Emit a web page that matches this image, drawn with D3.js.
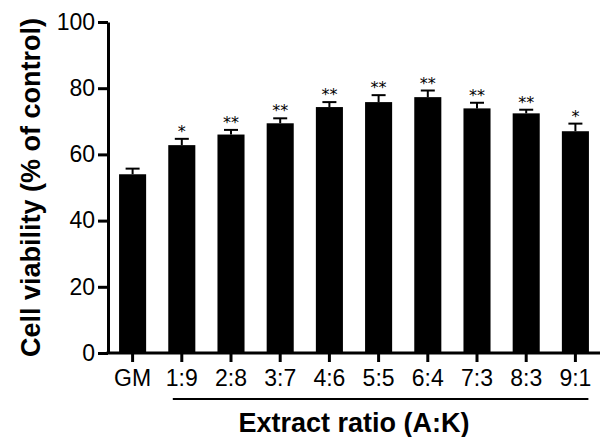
<!DOCTYPE html>
<html>
<head>
<meta charset="utf-8">
<script src="https://cdn.jsdelivr.net/npm/d3@7"></script>
<style>
  html, body { margin: 0; padding: 0; background: #fff; }
  svg { display: block; }
  text { font-family: Arial, "Liberation Sans", sans-serif; fill: #000; }
</style>
</head>
<body>
<svg id="chart" width="600" height="437"></svg>
<script>
const categories = ["GM", "1:9", "2:8", "3:7", "4:6", "5:5", "6:4", "7:3", "8:3", "9:1"];
const means      = [54.0, 62.8, 66.0, 69.4, 74.3, 75.8, 77.3, 73.9, 72.4, 67.0];
const errors     = [1.7, 1.9, 1.4, 1.5, 1.5, 2.1, 2.0, 1.7, 1.1, 2.3];
const stars      = ["", "*", "**", "**", "**", "**", "**", "**", "**", "*"];
const yTicks     = [0, 20, 40, 60, 80, 100];
const yTitle = "Cell viability (% of control)";
const xTitle = "Extract ratio (A:K)";

const svg = d3.select("#chart");
const mLeft = 108, mRight = 600, mTop = 22, mBottom = 353;

const x = d3.scaleBand().domain(categories).range([mLeft, mRight])
  .paddingInner(0.45).paddingOuter(0.225);
const y = d3.scaleLinear().domain([0, 100]).range([mBottom, mTop]);

// bars
svg.append("g").selectAll("rect").data(categories).join("rect")
  .attr("x", d => x(d))
  .attr("width", x.bandwidth())
  .attr("y", (d, i) => y(means[i]))
  .attr("height", (d, i) => mBottom - y(means[i]))
  .attr("fill", "#000");

// error bars (upper only)
const eb = svg.append("g").attr("stroke", "#000").attr("stroke-width", 2);
categories.forEach((c, i) => {
  const cx = x(c) + x.bandwidth() / 2;
  eb.append("line").attr("x1", cx).attr("x2", cx)
    .attr("y1", y(means[i])).attr("y2", y(means[i] + errors[i]));
  eb.append("line").attr("x1", cx - 7).attr("x2", cx + 7)
    .attr("y1", y(means[i] + errors[i])).attr("y2", y(means[i] + errors[i]));
});

// significance stars
svg.append("g").selectAll("text").data(categories).join("text")
  .attr("x", d => x(d) + x.bandwidth() / 2)
  .attr("y", (d, i) => y(means[i] + errors[i]) - 2)
  .attr("text-anchor", "middle")
  .style("font-family", "'DejaVu Sans', sans-serif")
  .style("font-size", "16px")
  .text((d, i) => stars[i]);

// y axis
const yAxis = svg.append("g").attr("transform", `translate(${mLeft},0)`)
  .call(d3.axisLeft(y).tickValues(yTicks).tickSize(10).tickSizeOuter(0).tickPadding(3));
yAxis.select(".domain").attr("stroke-width", 3);
yAxis.selectAll(".tick line").attr("stroke-width", 3);
yAxis.selectAll(".tick text").style("font-size", "23px")
  .style("font-family", "Arial, 'Liberation Sans', sans-serif");

// x axis
const xAxis = svg.append("g").attr("transform", `translate(0,${mBottom})`)
  .call(d3.axisBottom(x).tickSize(9).tickSizeOuter(0).tickPadding(8));
xAxis.select(".domain").remove();
xAxis.append("line").attr("x1", mLeft - 1.5).attr("x2", mRight).attr("y1", 0).attr("y2", 0)
  .attr("stroke", "#000").attr("stroke-width", 3);
xAxis.selectAll(".tick line").attr("stroke-width", 3);
xAxis.selectAll(".tick text").style("font-size", "23px")
  .style("font-family", "Arial, 'Liberation Sans', sans-serif");

// bracket line under ratio labels
const bx0 = x(categories[1]) + x.bandwidth() / 2 - 9;
const bx1 = x(categories[categories.length - 1]) + x.bandwidth() / 2 + 13;
svg.append("line").attr("x1", bx0).attr("x2", bx1).attr("y1", 399).attr("y2", 399)
  .attr("stroke", "#000").attr("stroke-width", 2);

// titles
svg.append("text")
  .attr("x", (mLeft + mRight) / 2).attr("y", 432)
  .attr("text-anchor", "middle")
  .style("font-size", "27px").style("font-weight", "bold")
  .text(xTitle);

svg.append("text")
  .attr("transform", `translate(40,${(mTop + mBottom) / 2}) rotate(-90)`)
  .attr("text-anchor", "middle")
  .style("font-size", "27px").style("font-weight", "bold")
  .text(yTitle);
</script>
</body>
</html>
